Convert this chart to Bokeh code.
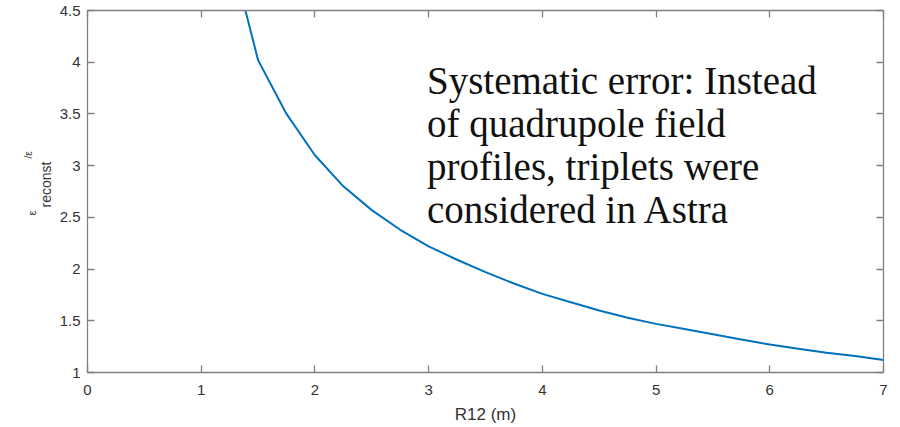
from bokeh.plotting import figure
from bokeh.models import Range1d, FixedTicker, LinearAxis, Label, Title
from bokeh.embed import file_html
from bokeh.resources import INLINE

# ---- data ----
R12 = [1.25, 1.5, 1.75, 2.0, 2.25, 2.5, 2.75, 3.0, 3.25, 3.5, 3.75, 4.0,
       4.25, 4.5, 4.75, 5.0, 5.25, 5.5, 5.75, 6.0, 6.25, 6.5, 6.75, 7.0]
RATIO = [5.10, 4.02, 3.50, 3.10, 2.80, 2.57, 2.38, 2.22, 2.09, 1.97, 1.86, 1.76,
         1.68, 1.60, 1.53, 1.47, 1.42, 1.37, 1.32, 1.27, 1.23, 1.19, 1.16, 1.12]
X_TICKS = [0, 1, 2, 3, 4, 5, 6, 7]
Y_TICKS = [1, 1.5, 2, 2.5, 3, 3.5, 4, 4.5]
X_LABEL = "R12 (m)"
Y_LABEL_MAIN = "ε"
Y_LABEL_SUB = "reconst"
Y_LABEL_SUP = "/ε"
ANNOT_LINES = ["Systematic error: Instead", "of quadrupole field",
               "profiles, triplets were", "considered in Astra"]

AX_COL = "#808080"
TXT_COL = "#333333"
FONT = "Liberation Sans"

p = figure(width=900, height=427, output_backend="svg", toolbar_location=None,
           x_range=Range1d(0, 7), y_range=Range1d(1, 4.5),
           min_border_left=87, min_border_right=17, min_border_top=10, min_border_bottom=55)
p.background_fill_color = "white"
p.border_fill_color = "white"
p.outline_line_color = None
p.grid.visible = False

p.line(R12, RATIO, line_color="#0072BD", line_width=2)


def style_axis(ax, ticks, show_labels):
    ax.ticker = FixedTicker(ticks=ticks)
    ax.axis_line_color = AX_COL
    ax.axis_line_width = 1.3
    ax.major_tick_line_color = AX_COL
    ax.major_tick_line_width = 1.3
    ax.major_tick_in = 7
    ax.major_tick_out = 0
    ax.minor_tick_line_color = None
    if show_labels:
        ax.major_label_overrides = {t: "%g" % t for t in ticks}
        ax.major_label_text_font = FONT
        ax.major_label_text_font_size = "15px"
        ax.major_label_text_color = TXT_COL
    else:
        ax.major_label_overrides = {t: "" for t in ticks}
        ax.major_label_text_font_size = "0px"
        ax.major_label_standoff = 0


style_axis(p.xaxis[0], X_TICKS, True)
style_axis(p.yaxis[0], Y_TICKS, True)
p.xaxis[0].major_label_standoff = 12
p.yaxis[0].major_label_standoff = 7
p.xaxis[0].axis_label = X_LABEL
p.xaxis[0].axis_label_text_font = FONT
p.xaxis[0].axis_label_text_font_size = "17px"
p.xaxis[0].axis_label_text_font_style = "normal"
p.xaxis[0].axis_label_text_color = TXT_COL
p.xaxis[0].axis_label_standoff = 7

top_ax = LinearAxis()
right_ax = LinearAxis()
style_axis(top_ax, X_TICKS, False)
style_axis(right_ax, Y_TICKS, False)
p.add_layout(top_ax, "above")
p.add_layout(right_ax, "right")

# y label: epsilon_reconst / epsilon, built from rotated side titles
p.add_layout(Title(text=Y_LABEL_SUB, align="left", offset=165, standoff=6,
                   text_font=FONT, text_font_size="14px", text_font_style="normal",
                   text_color=TXT_COL), "left")
p.add_layout(Title(text=Y_LABEL_MAIN, align="left", offset=157, standoff=-10,
                   text_font=FONT, text_font_size="11px", text_font_style="normal",
                   text_color=TXT_COL), "left")
p.add_layout(Title(text=Y_LABEL_SUP, align="left", offset=214, standoff=-11,
                   text_font=FONT, text_font_size="10px", text_font_style="normal",
                   text_color=TXT_COL), "left")

# annotation text
for i, line in enumerate(ANNOT_LINES):
    p.add_layout(Label(x=2.985, y=3.823 - 0.4157 * i, text=line,
                       text_font="Liberation Serif", text_font_size="39px",
                       text_color="#111111", text_align="left",
                       text_baseline="alphabetic"))

open("out.html", "w").write(file_html(p, INLINE))
